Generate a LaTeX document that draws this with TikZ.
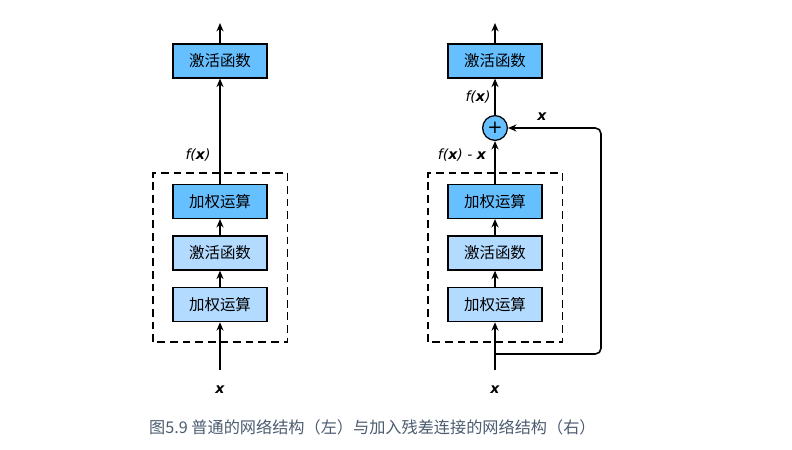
\documentclass[tikz,border=0pt]{standalone}
\usepackage{fontspec}
\setsansfont{DejaVu Sans}
\newfontfamily\cjk{Noto Sans CJK SC}
\usetikzlibrary{arrows.meta,positioning}
\definecolor{boxDark}{HTML}{66BFFF}
\definecolor{boxLight}{HTML}{B3DAFF}
\definecolor{capGray}{HTML}{4B5B70}

\begin{document}
\begin{tikzpicture}[>={Stealth[length=6pt,width=5pt]},
 layer/.style={draw,line width=0.9pt,minimum width=2.35cm,minimum height=0.85cm,inner sep=0pt,font=\cjk\fontsize{11}{13}\selectfont},
 lbl/.style={font=\sffamily\itshape\fontsize{10}{12}\selectfont},
 conn/.style={->,line width=1.1pt},
 blockbox/.style={dash pattern=on 5.5pt off 3.5pt,line width=1pt}]
\useasboundingbox (0,0) rectangle (19.8,11.225);
% the same stack of layers on both sides
\foreach \c/\x in {L/5.5,R/12.375}{
 \node[layer,fill=boxDark] (act\c) at (\x,9.7) {激活函数};
 \node[layer,fill=boxDark] (wt\c2) at (\x,6.19) {加权运算};
 \node[layer,fill=boxLight] (mid\c) at (\x,4.9) {激活函数};
 \node[layer,fill=boxLight] (wt\c1) at (\x,3.61) {加权运算};
 \draw[blockbox] (\x-1.68,2.675) rectangle (\x+1.68,6.9);
 \coordinate (in\c) at (\x,1.975);
 \coordinate (out\c) at (\x,10.65);
 \node[lbl] (x\c) at (\x,1.475) {\bfseries x};
 \draw[conn] (in\c) -- (wt\c1);
 \draw[conn] (wt\c1) -- (mid\c);
 \draw[conn] (mid\c) -- (wt\c2);
 \draw[conn] (act\c) -- (out\c);
}
% plain network
\draw[conn] (wtL2) -- (actL);
\node[lbl] (fL) at (4.95,7.35) {f(\bfseries x\mdseries)};
% residual connection
\node[circle,draw,line width=0.9pt,fill=boxDark,minimum size=0.62cm,inner sep=0pt,font=\sffamily\fontsize{13}{13}\selectfont] (sum) at (12.375,8.025) {+};
\draw[conn] (wtR2) -- (sum);
\draw[conn] (sum) -- (actR);
\coordinate (tap) at (12.375,2.375);
\coordinate (bend) at (15.025,2.375);
\draw[conn,rounded corners=4pt] (tap) -- (bend) |- (sum.east);
\node[lbl] (fR) at (11.95,8.8) {f(\bfseries x\mdseries)};
\node[lbl] (fxR) at (11.55,7.35) {f(\bfseries x\mdseries) - \bfseries x};
\node[lbl] (xSkip) at (13.55,8.3) {\bfseries x};
\node[font=\cjk\fontsize{11.5}{14}\selectfont,text=capGray] (cap) at (9.31,0.55) {图5.9 普通的网络结构（左）与加入残差连接的网络结构（右）};
\end{tikzpicture}
\end{document}
